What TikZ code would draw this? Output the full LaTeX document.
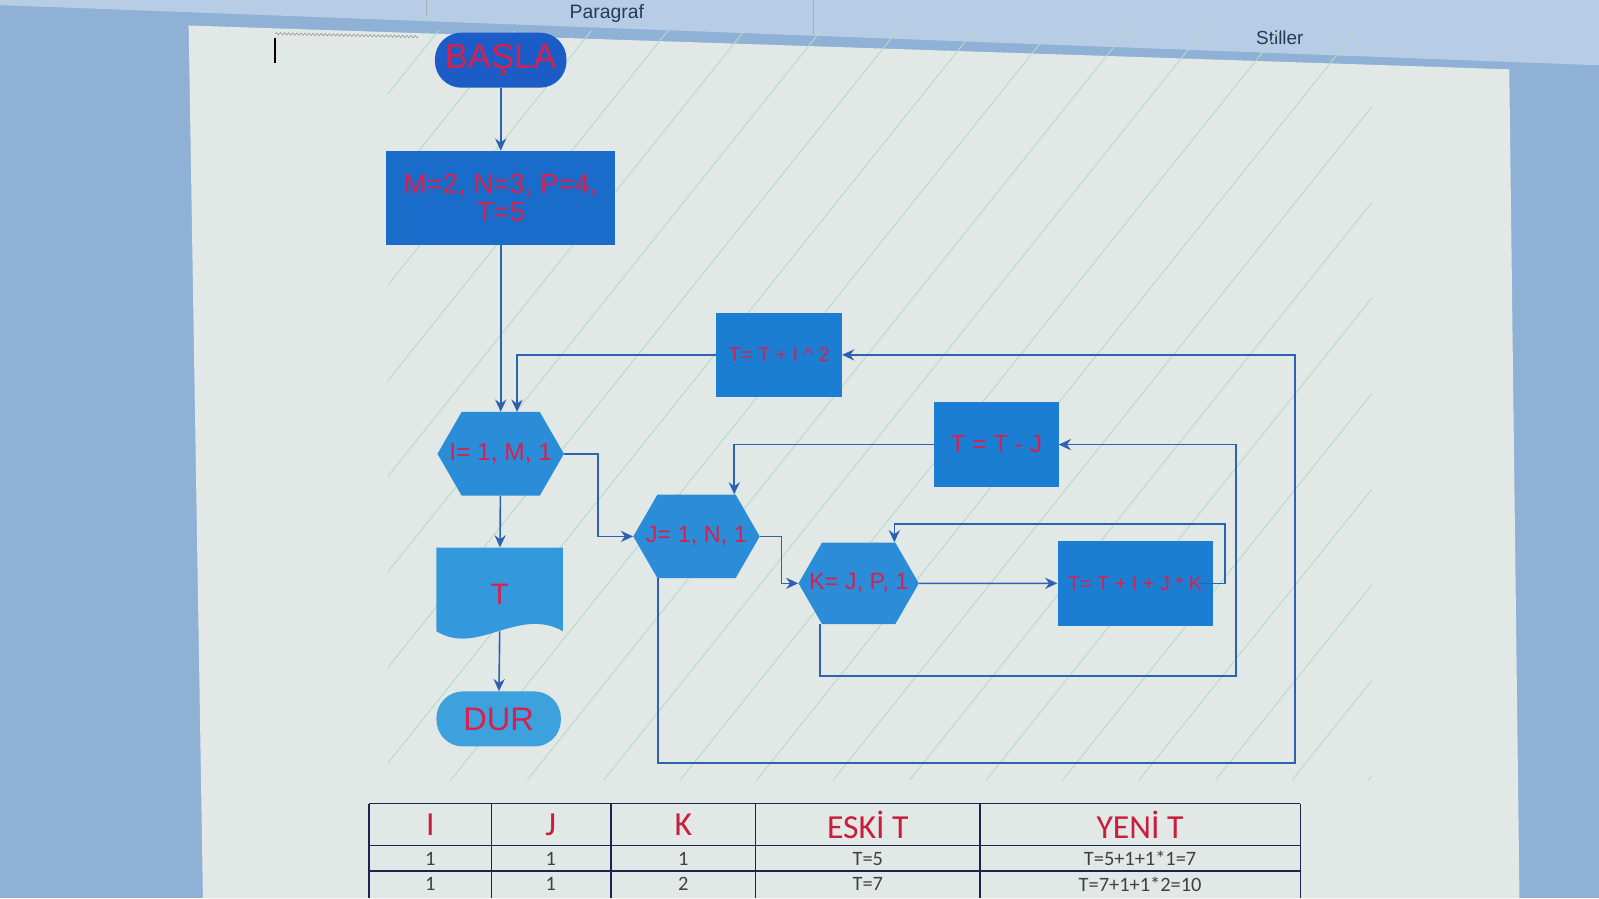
\documentclass[tikz,border=0pt]{standalone}
\usepackage{fontspec}
\setmainfont{Liberation Sans}
\newfontfamily\tablefont{Carlito}
\usetikzlibrary{arrows,arrows.meta,shapes,decorations.pathmorphing}

\definecolor{deskblue}{HTML}{8FB1D5}
\definecolor{ribbon}{HTML}{B7CDE5}
\definecolor{ribbontext}{HTML}{253A5C}
\definecolor{paper}{HTML}{E2E8E6}
\definecolor{hatch}{HTML}{B2DCC8}
\definecolor{startblue}{HTML}{1C5CC6}
\definecolor{boxblue}{HTML}{1A6CCA}
\definecolor{hexblue}{HTML}{2B8CD8}
\definecolor{docblue}{HTML}{3399DC}
\definecolor{endblue}{HTML}{3CA1DC}
\definecolor{rightblue}{HTML}{1C7ED3}
\definecolor{flowline}{HTML}{2D62B2}
\definecolor{labelred}{HTML}{D8204E}
\definecolor{tablered}{HTML}{C81E3C}
\definecolor{tableline}{HTML}{1E2250}

\tikzset{
  termbox/.style={rectangle, rounded corners=26pt, minimum height=54, inner sep=2pt, text=labelred},
  procbox/.style={rectangle, inner sep=2pt, text=labelred, align=center},
  loophex/.style={signal, signal to=west and east, signal pointer angle=120,
    minimum width=124, minimum height=82, inner sep=0pt, text=labelred,
    font=\fontsize{23}{25}\selectfont},
  docbox/.style={rectangle, minimum width=124, minimum height=92, text=labelred,
    path picture={\fill[docblue] (path picture bounding box.north west)
      -- (path picture bounding box.north east)
      -- ([yshift=10pt]path picture bounding box.south east)
      .. controls +(-44pt,25pt) and +(40pt,-25pt) .. ([yshift=10pt]path picture bounding box.south west)
      -- cycle;}},
  flow/.style={draw=flowline, line width=1.6pt, -{Stealth[length=12pt,width=11pt,inset=4pt]}},
  tabhead/.style={text=tablered, font=\tablefont\fontsize{33}{35}\selectfont},
  tabcell/.style={text=black!75, font=\tablefont\fontsize{20}{22}\selectfont}
}

\begin{document}
\begin{tikzpicture}[x=1pt,y=-1pt]
  \useasboundingbox (0,0) rectangle (1568,881);
  % screen and page
  \fill[deskblue] (0,0) rectangle (1568,881);
  \fill[ribbon] (0,0) -- (1568,0) -- (1568,64) -- (0,5) -- cycle;
  \draw[ribbontext!40, line width=1pt] (418,0) -- (418,16);
  \draw[ribbontext!40, line width=1pt] (798,0) -- (798,33);
  \node[text=ribbontext, font=\fontsize{19}{21}\selectfont] (paragraf) at (595,13) {Paragraf};
  \node[text=ribbontext, font=\fontsize{18.5}{20}\selectfont] (stiller) at (1255,37) {Stiller};
  \fill[paper] (185,25) -- (1480,68) -- (1490,881) -- (199,881) -- cycle;
  \draw[line width=2pt] (270,37) -- (270,62);
  \draw[gray, decorate, decoration={zigzag, amplitude=1.2pt, segment length=4pt}] (270,33) -- (410,36);

  % canvas hatching
  \begin{scope}
    \clip (380,30) rectangle (1345,765);
    \foreach \s in {430,505,...,1930}
      \draw[hatch, line width=0.9pt] (\s,30) -- ++(-588,735);
  \end{scope}

  % flowchart
  \node[termbox, fill=startblue, minimum width=129, font=\fontsize{34}{36}\selectfont] (basla) at (491,59) {BAŞLA};
  \node[procbox, fill=boxblue, minimum width=224, minimum height=92, font=\fontsize{27}{27}\selectfont] (init) at (491,194) {M=2, N=3, P=4,\\T=5};
  \node[loophex, fill=hexblue, font=\fontsize{24}{26}\selectfont] (iloop) at (491,445) {\makebox[0pt]{I= 1, M, 1}};
  \node[docbox, font=\fontsize{29}{31}\selectfont] (tout) at (490,583) {T};
  \node[termbox, fill=endblue, minimum width=122, font=\fontsize{32}{34}\selectfont] (dur) at (489,705) {DUR};

  \node[procbox, fill=rightblue, minimum width=123, minimum height=83, font=\fontsize{19.5}{21}\selectfont] (isq) at (764,348) {T= T + I \textasciicircum{} 2};
  \node[procbox, fill=rightblue, minimum width=122, minimum height=84, font=\fontsize{24}{26}\selectfont] (tminus) at (977,436) {T = T - J};
  \node[loophex, fill=hexblue] (jloop) at (683,526) {\makebox[0pt]{J= 1, N, 1}};
  \node[loophex, fill=hexblue, minimum width=118, minimum height=80] (kloop) at (842,572) {\makebox[0pt]{K= J, P, 1}};
  \node[procbox, fill=rightblue, minimum width=152, minimum height=83, font=\fontsize{19.5}{21}\selectfont] (tsum) at (1113,572) {T= T + I + J * K};

  \coordinate (kback) at (1201,514);
  \coordinate (kret) at (1212,663);
  \coordinate (jret) at (1270,748);

  \draw[flow] (basla) -- (init);
  \draw[flow] (init) -- (iloop);
  \draw[flow] (isq.west) -| ([xshift=16pt]iloop.north);
  \draw[flow] (iloop.east) -- ++(33,0) |- (jloop.west);
  \draw[flow] (iloop) -- (tout);
  \draw[flow] ([yshift=10pt]tout.south) -- (dur);
  \draw[flow] (tminus.west) -| ([xshift=37pt]jloop.north);
  \draw[flow] (jloop.east) -- ++(21,0) |- (kloop.west);
  \draw[flow] (kloop) -- (tsum);
  \draw[flow] ([xshift=-14pt]tsum.east) -| (kback) -| ([xshift=35pt]kloop.north);
  \draw[flow] ([xshift=-38pt]kloop.south) |- (kret) |- (tminus.east);
  \draw[flow] ([xshift=-38pt]jloop.south) |- (jret) |- (isq.east);

  % trace table
  \foreach \y in {788,829,854}
    \draw[tableline, line width=1.4pt] (362,\y) -- (1275,\y);
  \foreach \x in {362,482,599,741,961,1275}
    \draw[tableline, line width=1.4pt] (\x,788) -- (\x,881);
  \node[tabhead] (hi) at (422,809) {I};
  \node[tabhead] (hj) at (540,809) {J};
  \node[tabhead] (hk) at (670,809) {K};
  \node[tabhead] (heski) at (851,809) {ESKİ T};
  \node[tabhead] (hyeni) at (1118,809) {YENİ T};
  \node[tabcell] (ai) at (422,842) {1};
  \node[tabcell] (aj) at (540,842) {1};
  \node[tabcell] (ak) at (670,842) {1};
  \node[tabcell] (aeski) at (851,842) {T=5};
  \node[tabcell] (ayeni) at (1118,842) {T=5+1+1*1=7};
  \node[tabcell] (bi) at (422,867) {1};
  \node[tabcell] (bj) at (540,867) {1};
  \node[tabcell] (bk) at (670,867) {2};
  \node[tabcell] (beski) at (851,867) {T=7};
  \node[tabcell] (byeni) at (1118,867) {T=7+1+1*2=10};
\end{tikzpicture}
\end{document}
